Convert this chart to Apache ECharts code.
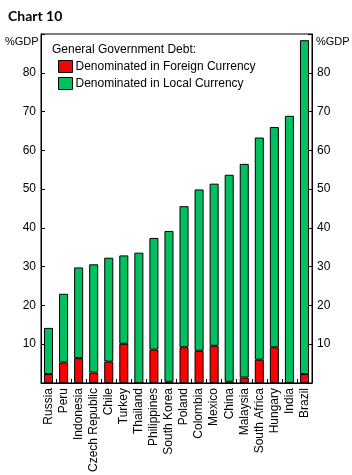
<!DOCTYPE html>
<html>
<head>
<meta charset="utf-8">
<script src="https://cdn.jsdelivr.net/npm/echarts@6/dist/echarts.min.js"></script>
<style>html,body{margin:0;padding:0;background:#fff;}#c{width:352px;height:475px;}</style>
</head>
<body>
<div id="c"></div>
<script>
const categories = ["Russia","Peru","Indonesia","Czech Republic","Chile","Turkey","Thailand","Philippines","South Korea","Poland","Colombia","Mexico","China","Malaysia","South Africa","Hungary","India","Brazil"];
const totalDebt = [14.2,23.0,29.8,30.6,32.3,32.9,33.6,37.4,39.2,45.6,49.9,51.4,53.7,56.5,63.3,66.0,68.9,88.4];
const foreignDebt = [2.3,5.3,6.4,2.7,5.5,10.1,0,8.6,0.3,9.2,8.3,9.6,0.3,1.4,6.0,9.2,0,2.3];
const localDebt = totalDebt.map((t,i)=>+(t-foreignDebt[i]).toFixed(1));
const yTicks = [10,20,30,40,50,60,70,80];

const chart = echarts.init(document.getElementById('c'), null, {renderer:'canvas'});
const font = 'Liberation Sans, Arial, sans-serif';
function yAxis(pos){
  return {
    type:'value', min:0, max:90, interval:10, position:pos,
    axisLine:{show:true, lineStyle:{color:'#000', width:1}},
    axisTick:{show:true, inside:true, length:4, lineStyle:{color:'#000'}},
    splitLine:{show:false},
    axisLabel:{color:'#000', fontFamily:font, fontSize:12, margin:5,
      formatter:v=> yTicks.includes(v) ? String(v) : ''}
  };
}
chart.setOption({
  animation:false,
  backgroundColor:'#fff',
  title:[
    {text:'Chart 10', left:3, top:4, textStyle:{fontFamily:'Lato, sans-serif', fontWeight:'bold', fontSize:14, color:'#000'}},
    {text:'General Government Debt:', left:47, top:39, textStyle:{fontFamily:font, fontWeight:'normal', fontSize:12, color:'#000'}}
  ],
  legend:{
    orient:'vertical', left:53, top:55, itemGap:4, itemWidth:14, itemHeight:12, icon:'rect',
    textStyle:{fontFamily:font, fontSize:12, color:'#000', padding:[0,0,0,-2]},
    itemStyle:{borderColor:'#000', borderWidth:1},
    data:['Denominated in Foreign Currency','Denominated in Local Currency']
  },
  graphic:[
    {type:'text', left:5, top:36, style:{text:'%GDP', fontFamily:font, fontSize:11, fill:'#000'}},
    {type:'text', left:316, top:36, style:{text:'%GDP', fontFamily:font, fontSize:11, fill:'#000'}}
  ],
  grid:{left:41, right:40, top:34, bottom:89, show:true, borderColor:'#000', borderWidth:1, backgroundColor:'transparent'},
  xAxis:{
    type:'category', data:categories, boundaryGap:true,
    axisLine:{show:true, lineStyle:{color:'#000', width:1}},
    axisTick:{show:true, inside:true, length:4, alignWithLabel:false, lineStyle:{color:'#000'}},
    axisLabel:{rotate:90, interval:0, color:'#000', fontFamily:font, fontSize:12, margin:5}
  },
  yAxis:[yAxis('left'), yAxis('right')],
  series:[
    {name:'Denominated in Foreign Currency', type:'bar', stack:'d', data:foreignDebt, barCategoryGap:'40%',
      itemStyle:{color:'#ff0000', borderColor:'#000', borderWidth:1}},
    {name:'Denominated in Local Currency', type:'bar', stack:'d', data:localDebt, barCategoryGap:'40%',
      itemStyle:{color:'#00c060', borderColor:'#000', borderWidth:1}}
  ]
});
</script>
</body>
</html>
